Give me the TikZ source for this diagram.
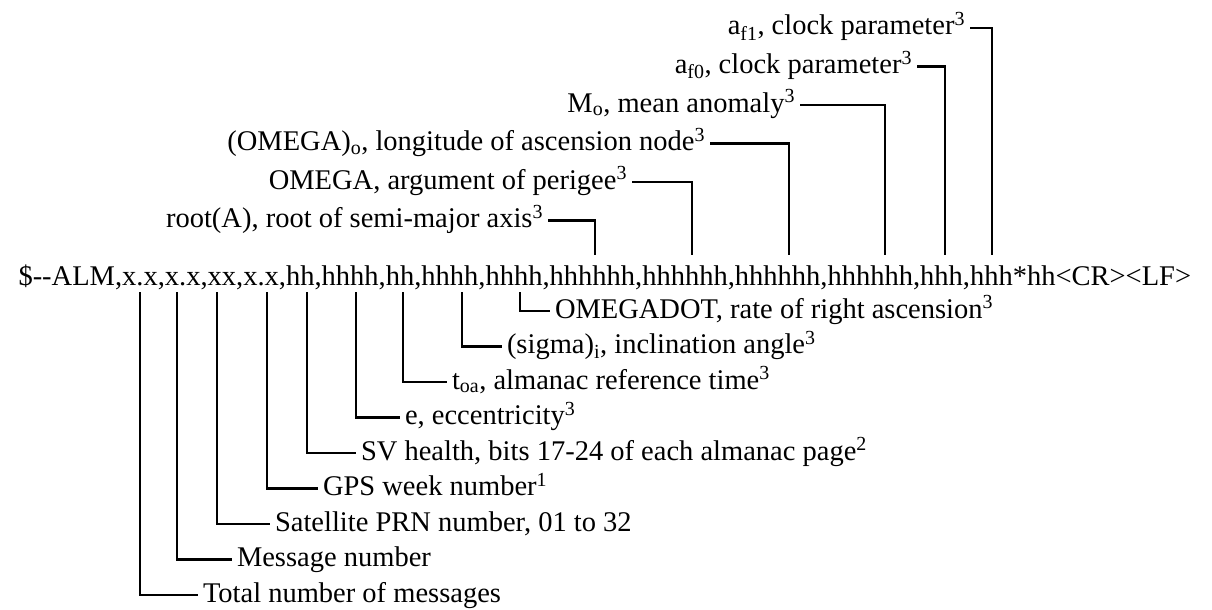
\documentclass[tikz,border=0pt]{standalone}
\usepackage{fontspec}
\setmainfont{Liberation Serif}
\begin{document}
\begin{tikzpicture}[x=1pt,y=-1pt,
  wire/.style={line width=2.1pt},
  lbl/.style={inner xsep=5pt, inner ysep=0pt, outer sep=0pt,
    text height=20pt, text depth=6pt, font=\fontsize{28.5}{34}\selectfont},
  msg/.style={inner sep=0pt, outer sep=0pt, font=\fontsize{28.5}{34}\selectfont}]
\useasboundingbox (0,0) rectangle (1212,610);

% the sentence
\node[msg, anchor=base west] (nmea) at (18.5,285)
  {\$-{}-ALM,x.x,x.x,xx,x.x,hh,hhhh,hh,hhhh,hhhh,hhhhhh,hhhhhh,hhhhhh,hhhhhh,hhh,hhh*hh<CR><LF>};

% attach points below the sentence
\coordinate (d1) at (140,292);
\coordinate (d2) at (177,292);
\coordinate (d3) at (217,292);
\coordinate (d4) at (267,292);
\coordinate (d5) at (307,292);
\coordinate (d6) at (356,292);
\coordinate (d7) at (403,292);
\coordinate (d8) at (462,292);
\coordinate (d9) at (520,292);

% attach points above the sentence
\coordinate (u10) at (595,255);
\coordinate (u11) at (692,255);
\coordinate (u12) at (789,255);
\coordinate (u13) at (885,255);
\coordinate (u14) at (945,255);
\coordinate (u15) at (992,255);

% fields described above
\node[lbl, anchor=east] (af1) at (970,28) {a\textsubscript{f1}, clock parameter\textsuperscript{3}};
\node[lbl, anchor=east] (af0) at (917,66.5) {a\textsubscript{f0}, clock parameter\textsuperscript{3}};
\node[lbl, anchor=east] (mo) at (800,105) {M\textsubscript{o}, mean anomaly\textsuperscript{3}};
\node[lbl, anchor=east] (omo) at (710,143.5) {(OMEGA)\textsubscript{o}, longitude of ascension node\textsuperscript{3}};
\node[lbl, anchor=east] (om) at (632,182) {OMEGA, argument of perigee\textsuperscript{3}};
\node[lbl, anchor=east] (rta) at (548,220.5) {root(A), root of semi-major axis\textsuperscript{3}};

\draw[wire] (af1.east) -| (u15);
\draw[wire] (af0.east) -| (u14);
\draw[wire] (mo.east) -| (u13);
\draw[wire] (omo.east) -| (u12);
\draw[wire] (om.east) -| (u11);
\draw[wire] (rta.east) -| (u10);

% fields described below
\node[lbl, anchor=west] (omd) at (550,311) {OMEGADOT, rate of right ascension\textsuperscript{3}};
\node[lbl, anchor=west] (sig) at (502,346.5) {(sigma)\textsubscript{i}, inclination angle\textsuperscript{3}};
\node[lbl, anchor=west] (toa) at (447,382) {t\textsubscript{oa}, almanac reference time\textsuperscript{3}};
\node[lbl, anchor=west] (ecc) at (400,417.5) {e, eccentricity\textsuperscript{3}};
\node[lbl, anchor=west] (svh) at (356,453) {SV health, bits 17-24 of each almanac page\textsuperscript{2}};
\node[lbl, anchor=west] (gps) at (318,488.5) {GPS week number\textsuperscript{1}};
\node[lbl, anchor=west] (prn) at (270,524) {Satellite PRN number, 01 to 32};
\node[lbl, anchor=west] (msn) at (232,559.5) {Message number};
\node[lbl, anchor=west] (tot) at (198,595) {Total number of messages};

\draw[wire] (d9) |- (omd.west);
\draw[wire] (d8) |- (sig.west);
\draw[wire] (d7) |- (toa.west);
\draw[wire] (d6) |- (ecc.west);
\draw[wire] (d5) |- (svh.west);
\draw[wire] (d4) |- (gps.west);
\draw[wire] (d3) |- (prn.west);
\draw[wire] (d2) |- (msn.west);
\draw[wire] (d1) |- (tot.west);
\end{tikzpicture}
\end{document}
